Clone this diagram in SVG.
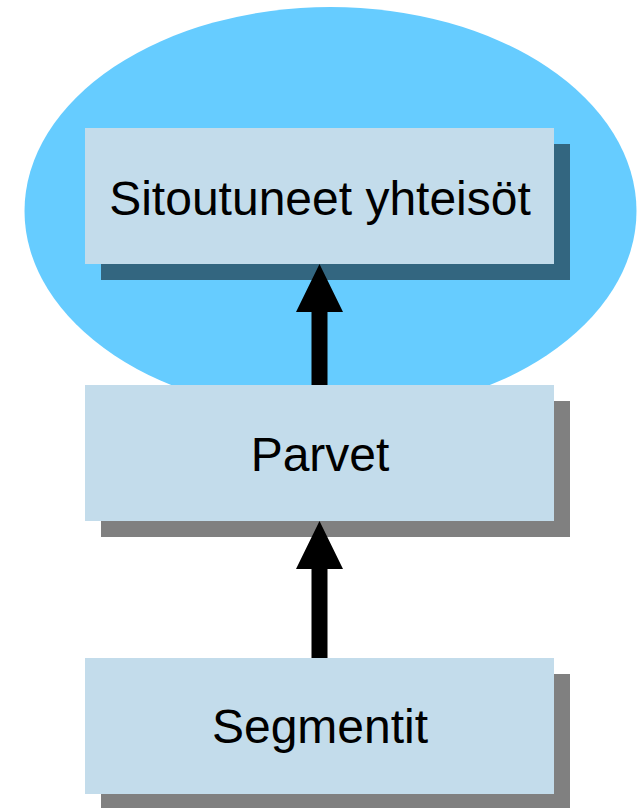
<svg xmlns="http://www.w3.org/2000/svg" width="637" height="808" viewBox="0 0 637 808">
  <defs>
    <style>
      .box { fill: #C3DCEB; }
      .shadow-grey { fill: #808080; }
      .shadow-blue { fill: #336680; }
      .label { font-family: "Liberation Sans", Arial, sans-serif; font-size: 48px; fill: #000; text-anchor: middle; }
      .arrow { fill: #000; }
    </style>
  </defs>
  <rect x="0" y="0" width="637" height="808" fill="#FFFFFF"/>

  <!-- community area -->
  <ellipse id="community-area" cx="330.5" cy="211" rx="306" ry="204" fill="#66CCFF"/>

  <g id="node-sitoutuneet">
    <rect class="shadow-blue" x="101" y="144" width="469" height="136"/>
    <rect class="box" x="85" y="128" width="469" height="136"/>
    <text class="label" x="320" y="215">Sitoutuneet yhteisöt</text>
  </g>

  <g id="node-parvet">
    <rect class="shadow-grey" x="101" y="401" width="469" height="136"/>
    <rect class="box" x="85" y="385" width="469" height="136"/>
    <text class="label" x="320" y="471">Parvet</text>
  </g>

  <g id="node-segmentit">
    <rect class="shadow-grey" x="101" y="674" width="469" height="136"/>
    <rect class="box" x="85" y="658" width="469" height="136"/>
    <text class="label" x="320" y="743">Segmentit</text>
  </g>

  <g id="connectors">
    <!-- Parvet to Sitoutuneet yhteisöt -->
    <polygon class="arrow" points="311.5,385 311.5,312 296,312 319.5,264 343,312 327.5,312 327.5,385"/>
    <!-- Segmentit to Parvet -->
    <polygon class="arrow" points="311.5,658 311.5,569 296,569 319.5,521 343,569 327.5,569 327.5,658"/>
  </g>
</svg>
